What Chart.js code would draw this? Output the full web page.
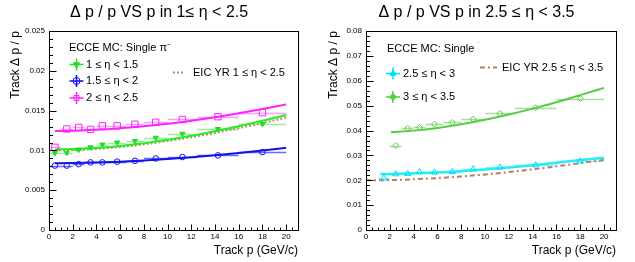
<!DOCTYPE html>
<html>
<head>
<meta charset="utf-8">
<script src="https://cdn.jsdelivr.net/npm/chart.js@4.4.1/dist/chart.umd.min.js"></script>
<style>
  body { margin: 0; background: #fff; }
  canvas { position: absolute; top: 0; }
  #left { left: 0; }
  #right { left: 318px; }
</style>
</head>
<body>
<canvas id="left" width="318" height="262"></canvas>
<canvas id="right" width="317" height="262"></canvas>
<script>
// momentum bins (GeV/c)
const binCenter = [0.5, 1.5, 2.5, 3.5, 4.5, 5.75, 7.25, 9, 11.25, 14.25, 18];
const binHalf = [0.5, 0.5, 0.5, 0.5, 0.5, 0.75, 0.75, 1, 1.25, 1.75, 2];

// left panel : 1 <= eta < 2.5
const resEta1 = [0.0097, 0.0097, 0.0101, 0.0104, 0.01075, 0.0110, 0.0112, 0.0116, 0.0121, 0.0127, 0.01333];
const resEta15 = [0.0081, 0.0081, 0.00828, 0.0085, 0.0085, 0.0086, 0.0087, 0.0090, 0.00918, 0.00938, 0.0098];
const resEta2 = [0.0104, 0.0127, 0.0129, 0.01265, 0.0131, 0.0131, 0.0133, 0.01355, 0.0139, 0.01425, 0.01475];

const fitP = [0.5, 2, 4, 6, 8, 10, 12, 14, 16, 18, 20];
const fitEta1 = [0.01015, 0.0102, 0.01031, 0.01057, 0.01091, 0.01135, 0.01185, 0.01243, 0.01305, 0.01373, 0.01446];
const fitEta15 = [0.0084, 0.00842, 0.00849, 0.00859, 0.00873, 0.00892, 0.00914, 0.00939, 0.00967, 0.00999, 0.01033];
const fitEta2 = [0.01245, 0.01249, 0.0126, 0.01279, 0.01304, 0.01336, 0.01375, 0.01419, 0.01468, 0.01522, 0.0158];
const yrLeft = [0.01, 0.01005, 0.0102, 0.01044, 0.01077, 0.01118, 0.01166, 0.0122, 0.01281, 0.01345, 0.01414];

// right panel : 2.5 <= eta < 3.5
const resEta25 = [null, 0.0208, 0.0225, 0.0226, 0.0234, 0.0232, 0.0234, 0.0245, 0.0252, 0.0261, 0.0277];
const resEta3 = [null, null, 0.0340, 0.0409, 0.0413, 0.0426, 0.0433, 0.0446, 0.0469, 0.0492, 0.0529];

const fitP25 = [1.2, 2, 4, 6, 8, 10, 12, 14, 16, 18, 20];
const fitEta25 = [0.02253, 0.02258, 0.0228, 0.02317, 0.02367, 0.02432, 0.02511, 0.02603, 0.02706, 0.02818, 0.0291];
const fitP3 = [2.1, 4, 6, 8, 10, 12, 14, 16, 18, 20];
const fitEta3 = [0.03935, 0.03999, 0.04106, 0.04253, 0.04434, 0.04646, 0.04884, 0.05143, 0.05426, 0.0572];
const yrP = [0, 2, 4, 6, 8, 10, 12, 14, 16, 18, 20];
const yrRight = [0.02, 0.0201, 0.0204, 0.0209, 0.02154, 0.02236, 0.02332, 0.02441, 0.02561, 0.0269, 0.02828];

Chart.defaults.font.family = "'Liberation Sans', Arial, sans-serif";
Chart.defaults.color = '#000';

const pts = (xs, ys, errs) => xs.map((x, i) => ({x: x, y: ys[i], xe: errs ? errs[i] : 0})).filter(p => p.y != null);

// horizontal (bin width) error bars
const errBars = {
  id: 'errBars',
  beforeDatasetsDraw(chart) {
    const {ctx, scales: {x, y}} = chart;
    ctx.save();
    ctx.beginPath();
    ctx.rect(chart.chartArea.left, chart.chartArea.top, chart.chartArea.width, chart.chartArea.height);
    ctx.clip();
    chart.data.datasets.forEach(ds => {
      if (!ds.errColor) return;
      ctx.strokeStyle = ds.errColor;
      ctx.lineWidth = 1.5;
      ds.data.forEach(p => {
        const py = Math.round(y.getPixelForValue(p.y)) + 0.5;
        ctx.beginPath();
        ctx.moveTo(x.getPixelForValue(p.x - p.xe), py);
        ctx.lineTo(x.getPixelForValue(p.x + p.xe), py);
        ctx.stroke();
      });
    });
    ctx.restore();
  }
};

// ROOT-like frame with inward ticks
const rootFrame = {
  id: 'rootFrame',
  afterDraw(chart, args, o) {
    const {ctx, chartArea: a, scales: {x, y}} = chart;
    const L = Math.round(a.left) + 0.5, B = Math.round(a.bottom) + 0.5;
    ctx.save();
    ctx.strokeStyle = '#000';
    ctx.lineWidth = 1;
    ctx.strokeRect(L, Math.round(a.top) + 0.5, Math.round(a.right) - Math.round(a.left), Math.round(a.bottom) - Math.round(a.top));
    ctx.beginPath();
    for (let i = 0; i * o.xMinor <= x.max + 1e-9; i++) {
      const px = Math.round(x.getPixelForValue(i * o.xMinor)) + 0.5;
      const len = i % o.xSub === 0 ? 6 : 3;
      ctx.moveTo(px, B);
      ctx.lineTo(px, B - len);
    }
    for (let i = 0; i * o.yMinor <= y.max + 1e-12; i++) {
      const py = Math.round(y.getPixelForValue(i * o.yMinor)) + 0.5;
      const len = i % o.ySub === 0 ? 7 : 3.5;
      ctx.moveTo(L, py);
      ctx.lineTo(L + len, py);
    }
    ctx.stroke();
    ctx.restore();
  }
};

// legend drawn like ROOT TLegend
const rootLegend = {
  id: 'rootLegend',
  afterDraw(chart, args, o) {
    const ctx = chart.ctx;
    ctx.save();
    ctx.font = "11px 'Liberation Sans', Arial, sans-serif";
    ctx.textBaseline = 'middle';
    ctx.fillStyle = '#000';
    ctx.fillText(o.header, o.headerX, o.headerY);
    if (o.headerTail) {
      const w = ctx.measureText(o.header).width;
      ctx.fillStyle = '#c8c8c8';
      ctx.fillText(o.headerTail, o.headerX + w + 2, o.headerY - 3);
    }
    o.items.forEach(it => {
      ctx.strokeStyle = it.color;
      if (it.marker) {
        ctx.lineWidth = 1.5;
        ctx.setLineDash([]);
        ctx.beginPath();
        ctx.moveTo(it.x - 7, it.y); ctx.lineTo(it.x + 7, it.y);
        ctx.moveTo(it.x, it.y - 6); ctx.lineTo(it.x, it.y + 6);
        ctx.stroke();
        ctx.fillStyle = it.fill;
        ctx.lineWidth = 1;
        Chart.helpers.drawPoint(ctx, {pointStyle: it.marker, radius: 3.5, rotation: it.rotation || 0, borderWidth: 1}, it.x, it.y);
      } else {
        ctx.lineWidth = 2;
        ctx.setLineDash(it.dash);
        ctx.beginPath();
        ctx.moveTo(it.x, it.y); ctx.lineTo(it.x2, it.y);
        ctx.stroke();
        ctx.setLineDash([]);
      }
      ctx.fillStyle = '#000';
      ctx.fillText(it.label, it.tx, it.y);
    });
    ctx.restore();
  }
};

function panelOptions(title, yMax, yStep, yWidth, padRight) {
  return {
    responsive: false,
    animation: false,
    layout: {padding: 0},
    plugins: {
      legend: {display: false},
      tooltip: {enabled: false},
      title: {display: true, text: title, font: {size: 16, weight: 'normal'}, padding: {top: 3, bottom: 9}}
    },
    scales: {
      x: {
        type: 'linear', min: 0, max: 21,
        grid: {display: false, drawTicks: false}, border: {display: false},
        ticks: {stepSize: 2, includeBounds: false, padding: 2, font: {size: 8}, maxRotation: 0},
        title: {display: true, text: 'Track p (GeV/c)', align: 'end', font: {size: 12}, padding: {top: 0, bottom: 4}},
        afterFit: s => { s.height = 32; }
      },
      y: {
        type: 'linear', min: 0, max: yMax,
        grid: {display: false, drawTicks: false}, border: {display: false},
        ticks: {stepSize: yStep, padding: 4, font: {size: 8}, callback: v => v === 0 ? '0' : String(+v.toFixed(4))},
        title: {display: true, text: 'Track Δ p / p', align: 'end', font: {size: 12}, padding: {top: 8, bottom: 0}},
        afterFit: s => { s.width = yWidth; }
      },
      // empty right margin of the pad, keeps the title centred on the whole pad
      margin: {
        type: 'linear', position: 'right',
        grid: {display: false, drawTicks: false}, border: {display: false},
        ticks: {display: false},
        afterFit: s => { s.width = padRight; }
      }
    }
  };
}

// left panel
const optsLeft = panelOptions('Δ p / p VS p in 1≤ η < 2.5', 0.025, 0.005, 49, 20);
optsLeft.plugins.rootFrame = {xMinor: 0.5, xSub: 4, yMinor: 0.001, ySub: 5};
optsLeft.plugins.rootLegend = {
  header: 'ECCE MC: Single π⁻', headerX: 69, headerY: 48,
  items: [
    {marker: 'triangle', rotation: 180, color: '#22dd22', fill: '#22dd22', x: 76.5, y: 64.5, tx: 86, label: '1 ≤ η < 1.5'},
    {marker: 'circle', color: '#1010ee', fill: 'rgba(0,0,0,0)', x: 76.5, y: 81, tx: 86, label: '1.5 ≤ η < 2'},
    {marker: 'rect', color: '#ff22ff', fill: 'rgba(0,0,0,0)', x: 76.5, y: 98, tx: 86, label: '2 ≤ η < 2.5'},
    {color: '#c08870', dash: [2, 2], x: 173, x2: 185, y: 72.5, tx: 193, label: 'EIC YR 1 ≤ η < 2.5'}
  ]
};

new Chart(document.getElementById('left'), {
  type: 'scatter',
  data: {
    datasets: [
      {label: '2 ≤ η < 2.5', data: pts(binCenter, resEta2, binHalf), pointStyle: 'rect', pointRadius: 4.5,
       borderColor: '#ff22ff', backgroundColor: 'rgba(0,0,0,0)', borderWidth: 1, errColor: '#ff9cff'},
      {label: '1 ≤ η < 1.5', data: pts(binCenter, resEta1, binHalf), pointStyle: 'triangle', rotation: 180, pointRadius: 3,
       borderColor: '#22dd22', backgroundColor: '#22dd22', borderWidth: 1, errColor: '#99ee99'},
      {label: '1.5 ≤ η < 2', data: pts(binCenter, resEta15, binHalf), pointStyle: 'circle', pointRadius: 2.8,
       borderColor: '#1010ee', backgroundColor: 'rgba(0,0,0,0)', borderWidth: 1, errColor: '#6a6aff'},
      {label: 'fit 2', data: pts(fitP, fitEta2), showLine: true, pointRadius: 0, borderColor: '#ff22ff', borderWidth: 2, cubicInterpolationMode: 'monotone'},
      {label: 'fit 1', data: pts(fitP, fitEta1), showLine: true, pointRadius: 0, borderColor: '#22ee22', borderWidth: 2, cubicInterpolationMode: 'monotone'},
      {label: 'fit 1.5', data: pts(fitP, fitEta15), showLine: true, pointRadius: 0, borderColor: '#1111ee', borderWidth: 2, cubicInterpolationMode: 'monotone'},
      {label: 'EIC YR', data: pts(fitP, yrLeft), showLine: true, pointRadius: 0, borderColor: '#c08870', borderWidth: 2, borderDash: [2, 2], cubicInterpolationMode: 'monotone'}
    ]
  },
  options: optsLeft,
  plugins: [errBars, rootFrame, rootLegend]
});

// right panel
const optsRight = panelOptions('Δ p / p VS p in 2.5 ≤ η < 3.5', 0.08, 0.01, 48, 19);
optsRight.plugins.rootFrame = {xMinor: 0.5, xSub: 4, yMinor: 0.002, ySub: 5};
optsRight.plugins.rootLegend = {
  header: 'ECCE MC: Single', headerTail: '⁻', headerX: 69, headerY: 49,
  items: [
    {marker: 'triangle', color: '#00e0f0', fill: '#00e0f0', x: 75, y: 73.5, tx: 85, label: '2.5 ≤ η < 3'},
    {marker: 'rectRot', color: '#55cc44', fill: '#55cc44', x: 75, y: 97, tx: 85, label: '3 ≤ η < 3.5'},
    {color: '#c07868', dash: [5, 3, 2, 3], x: 162, x2: 179, y: 67.5, tx: 184, label: 'EIC YR 2.5 ≤ η < 3.5'}
  ]
};

new Chart(document.getElementById('right'), {
  type: 'scatter',
  data: {
    datasets: [
      {label: '2.5 ≤ η < 3', data: pts(binCenter, resEta25, binHalf), pointStyle: 'triangle', pointRadius: 3.5,
       borderColor: '#00e0f0', backgroundColor: 'rgba(0,0,0,0)', borderWidth: 1, errColor: '#99f0f6'},
      {label: '3 ≤ η < 3.5', data: pts(binCenter, resEta3, binHalf), pointStyle: 'rectRot', pointRadius: 3,
       borderColor: '#55cc44', backgroundColor: 'rgba(0,0,0,0)', borderWidth: 1, errColor: '#aadd9c'},
      {label: 'fit 2.5', data: pts(fitP25, fitEta25), showLine: true, pointRadius: 0, borderColor: '#22eef8', borderWidth: 2.5, cubicInterpolationMode: 'monotone'},
      {label: 'fit 3', data: pts(fitP3, fitEta3), showLine: true, pointRadius: 0, borderColor: '#55cc44', borderWidth: 2, cubicInterpolationMode: 'monotone'},
      {label: 'EIC YR', data: pts(yrP, yrRight), showLine: true, pointRadius: 0, borderColor: '#c07868', borderWidth: 2, borderDash: [5, 3, 2, 3], cubicInterpolationMode: 'monotone'}
    ]
  },
  options: optsRight,
  plugins: [errBars, rootFrame, rootLegend]
});
</script>
</body>
</html>
